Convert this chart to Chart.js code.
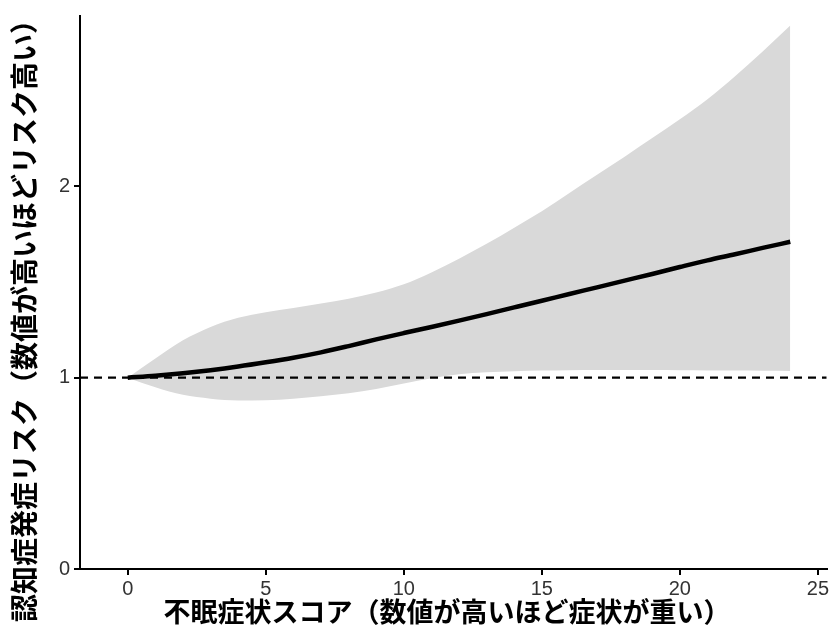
<!DOCTYPE html>
<html lang="ja">
<head>
<meta charset="UTF-8">
<title>不眠症状スコアと認知症発症リスク</title>
<style>
  body { margin: 0; background: #fff; }
  #chart { display: block; }
</style>
</head>
<body>
<canvas id="chart" width="831" height="634"></canvas>

<script src="https://cdn.jsdelivr.net/npm/chart.js"></script>
<script>
// insomnia score (x) and relative dementia risk
const scores = [0, 1, 2, 3, 4, 5, 6, 7, 8, 9, 10, 11, 12, 13, 14, 15, 16, 17, 18, 19, 20, 21, 22, 23, 24];
const riskFit = [1.000, 1.010, 1.023, 1.039, 1.058, 1.080, 1.104, 1.132, 1.165, 1.200, 1.233, 1.265, 1.298,
                 1.332, 1.367, 1.402, 1.437, 1.472, 1.507, 1.542, 1.578, 1.613, 1.645, 1.678, 1.710];
const ciUpper = [1.000, 1.100, 1.195, 1.265, 1.313, 1.342, 1.364, 1.387, 1.412, 1.445, 1.488, 1.550, 1.622,
                 1.700, 1.784, 1.870, 1.965, 2.060, 2.155, 2.252, 2.350, 2.455, 2.575, 2.705, 2.840];
const ciLower = [1.000, 0.950, 0.910, 0.890, 0.881, 0.882, 0.890, 0.903, 0.918, 0.941, 0.970, 0.997, 1.018,
                 1.028, 1.034, 1.037, 1.039, 1.040, 1.040, 1.040, 1.039, 1.038, 1.037, 1.036, 1.035];
const xTicks = [0, 5, 10, 15, 20, 25];
const yTicks = [0, 1, 2];
const refRisk = 1;

const xMin = -1.73, xMax = 25.32;
const yMin = 0, yMax = 2.89;

const xTitle = '不眠症状スコア（数値が高いほど症状が重い）';
const yTitle = '認知症発症リスク（数値が高いほどリスク高い）';

const pts = arr => scores.map((x, i) => ({ x: x, y: arr[i] }));

const tickFont = { family: "'Liberation Sans Narrow', 'Liberation Sans', Arial, sans-serif", size: 20 };
const titleFamily = "'Noto Sans CJK JP', 'Noto Sans', sans-serif";

// axis titles drawn by hand so they sit where the original has them
const axisTitles = {
    id: 'axisTitles',
    afterDraw(chart) {
        const ctx = chart.ctx;
        ctx.save();
        ctx.fillStyle = '#000';
        ctx.textAlign = 'center';
        ctx.textBaseline = 'middle';
        ctx.font = 'bold 27px ' + titleFamily;
        ctx.fillText(xTitle, 447, 612);
        ctx.translate(24, 314);
        ctx.rotate(-Math.PI / 2);
        ctx.font = 'bold 28px ' + titleFamily;
        ctx.fillText(yTitle, 0, 0);
        ctx.restore();
    }
};

new Chart(document.getElementById('chart'), {
    type: 'line',
    data: {
        datasets: [
            {   // fitted curve (index 0 is drawn last, on top)
                data: pts(riskFit),
                borderColor: '#000',
                borderWidth: 4.5,
                pointRadius: 0,
                cubicInterpolationMode: 'monotone',
                fill: false
            },
            {   // reference line at 1
                data: [{ x: xMin, y: refRisk }, { x: xMax, y: refRisk }],
                borderColor: '#000',
                borderWidth: 2.2,
                borderDash: [8, 6],
                pointRadius: 0,
                fill: false
            },
            {   // lower bound
                data: pts(ciLower),
                borderWidth: 0,
                borderColor: 'rgba(0,0,0,0)',
                pointRadius: 0,
                cubicInterpolationMode: 'monotone',
                fill: false
            },
            {   // upper bound, filled down to the lower bound
                data: pts(ciUpper),
                borderWidth: 0,
                borderColor: 'rgba(0,0,0,0)',
                backgroundColor: '#d9d9d9',
                pointRadius: 0,
                cubicInterpolationMode: 'monotone',
                fill: '-1'
            }
        ]
    },
    options: {
        responsive: false,
        animation: false,
        layout: { padding: { top: 8, right: 0, left: 0, bottom: 0 } },
        plugins: {
            legend: { display: false },
            tooltip: { enabled: false }
        },
        scales: {
            x: {
                type: 'linear',
                min: xMin,
                max: xMax,
                afterBuildTicks: s => { s.ticks = xTicks.map(v => ({ value: v })); },
                afterFit: s => { s.height = 65; },
                grid: { drawOnChartArea: false, drawTicks: true, tickLength: 6, color: '#000', lineWidth: 2 },
                border: { display: true, color: '#000', width: 2 },
                ticks: { color: '#333', font: tickFont, padding: 2, maxRotation: 0 }
            },
            y: {
                type: 'linear',
                min: yMin,
                max: yMax,
                afterBuildTicks: s => { s.ticks = yTicks.map(v => ({ value: v })); },
                afterFit: s => { s.width = 80; },
                grid: { drawOnChartArea: false, drawTicks: true, tickLength: 6, color: '#000', lineWidth: 2 },
                border: { display: true, color: '#000', width: 2 },
                ticks: { color: '#333', font: tickFont, padding: 4 }
            }
        }
    },
    plugins: [axisTitles]
});
</script>
</body>
</html>
